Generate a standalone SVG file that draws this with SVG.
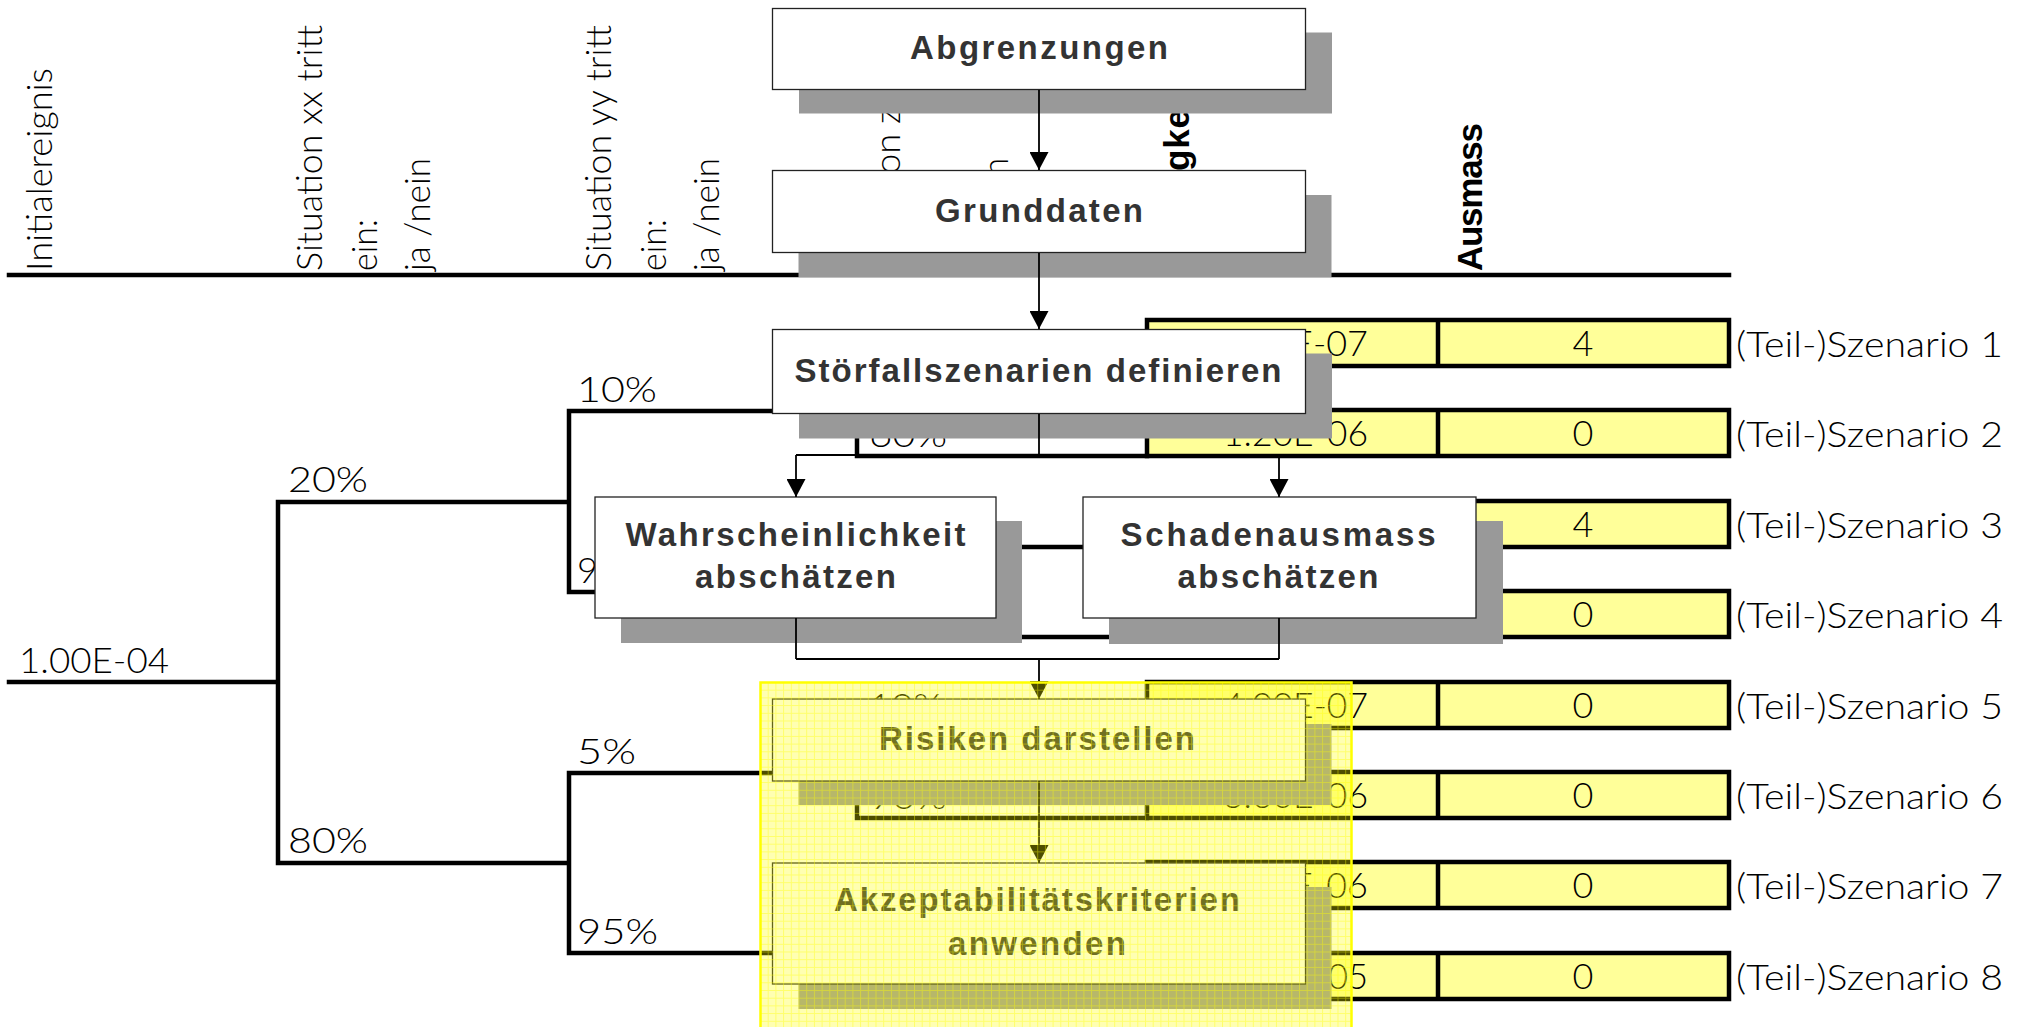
<svg xmlns="http://www.w3.org/2000/svg" width="2029" height="1027" viewBox="0 0 2029 1027">
  <defs>
    <style>
      .hdr  { font-family: Lato, "Liberation Sans", sans-serif; font-weight: 300; font-size: 35px; fill: #000; }
      .hdrb { font-family: "Liberation Sans", Arial, sans-serif; font-weight: bold; font-size: 35px; fill: #000; }
      .lbl  { font-family: Lato, "Liberation Sans", sans-serif; font-weight: 300; font-size: 36px; fill: #000; }
      .num  { text-anchor: end; }
      .val  { text-anchor: middle; }
      .tree { stroke: #000; stroke-width: 4.5; fill: none; stroke-linecap: square; }
      .cell { fill: #ffff99; stroke: #000; stroke-width: 4.5; }
      .div  { stroke: #000; stroke-width: 4.5; }
      .shadow { fill: #999999; }
      .box  { fill: #ffffff; stroke: #222; stroke-width: 1.3; }
      .btxt { font-family: "Liberation Sans", Arial, sans-serif; font-weight: bold; font-size: 33px; fill: #333; text-anchor: middle; }
      .conn { stroke: #000; stroke-width: 1.8; fill: none; }
      .arr  { marker-end: url(#arrow); }
    </style>
    <marker id="arrow" markerUnits="userSpaceOnUse" markerWidth="18" markerHeight="19" viewBox="0 0 18 19" refX="18" refY="9.5" orient="auto">
      <path d="M0,0 L18,9.5 L0,19 z" fill="#000"/>
    </marker>
    <pattern id="grid" patternUnits="userSpaceOnUse" x="760" y="682" width="7.7" height="7.7">
      <path d="M0,0.5 H7.7 M0.5,0 V7.7" stroke="#ffff00" stroke-width="1" stroke-opacity="0.4"/>
    </pattern>
  </defs>

  <!-- column headings -->
  <g id="headings">
    <path class="tree" d="M9,275 H1729"/>
    <text class="hdr" transform="translate(52,271) rotate(-90)" textLength="203" lengthAdjust="spacingAndGlyphs">Initialereignis</text>
    <text class="hdr" transform="translate(322,271) rotate(-90)" textLength="246" lengthAdjust="spacingAndGlyphs">Situation xx tritt</text>
    <text class="hdr" transform="translate(377,271) rotate(-90)" textLength="52" lengthAdjust="spacingAndGlyphs">ein:</text>
    <text class="hdr" transform="translate(430,271) rotate(-90)" textLength="113" lengthAdjust="spacingAndGlyphs">ja /nein</text>
    <text class="hdr" transform="translate(611,271) rotate(-90)" textLength="246" lengthAdjust="spacingAndGlyphs">Situation yy tritt</text>
    <text class="hdr" transform="translate(666,271) rotate(-90)" textLength="52" lengthAdjust="spacingAndGlyphs">ein:</text>
    <text class="hdr" transform="translate(719,271) rotate(-90)" textLength="113" lengthAdjust="spacingAndGlyphs">ja /nein</text>
    <text class="hdr" transform="translate(900,174) rotate(-90)" textLength="66" lengthAdjust="spacingAndGlyphs">on z</text>
    <text class="hdr" transform="translate(1008,177) rotate(-90)">n</text>
    <text class="hdrb" transform="translate(1189,171) rotate(-90)" textLength="62">gke</text>
    <text class="hdrb" transform="translate(1482,271) rotate(-90)" textLength="148">Ausmass</text>
  </g>

  <!-- event tree branches -->
  <g id="event-tree">
    <path class="tree" d="M9,682 H278 M278,502 V863 M278,502 H569 M278,863 H569
      M569,411 V592 M569,773 V953
      M569,411 H857 M569,592 H857 M569,773 H857 M569,953 H857
      M857,366 V456 M857,547 V637 M857,728 V818 M857,908 V999
      M857,366 H1147 M857,456 H1147 M857,547 H1147 M857,637 H1147
      M857,728 H1147 M857,818 H1147 M857,908 H1147 M857,999 H1147"/>
    <text class="lbl" x="19" y="673" textLength="150" lengthAdjust="spacingAndGlyphs">1.00E-04</text>
    <text class="lbl" x="288" y="492" textLength="80" lengthAdjust="spacingAndGlyphs">20%</text>
    <text class="lbl" x="288" y="853" textLength="80" lengthAdjust="spacingAndGlyphs">80%</text>
    <text class="lbl" x="577" y="402" textLength="80" lengthAdjust="spacingAndGlyphs">10%</text>
    <text class="lbl" x="577" y="583">9</text>
    <text class="lbl" x="577" y="764" textLength="59" lengthAdjust="spacingAndGlyphs">5%</text>
    <text class="lbl" x="577" y="944" textLength="81" lengthAdjust="spacingAndGlyphs">95%</text>
    <text class="lbl" x="869" y="447" textLength="78" lengthAdjust="spacingAndGlyphs">60%</text>
    <text class="lbl" x="869" y="719" textLength="74" lengthAdjust="spacingAndGlyphs">10%</text>
    <text class="lbl" x="869" y="809" textLength="78" lengthAdjust="spacingAndGlyphs">90%</text>
  </g>

  <!-- scenario table -->
  <g id="scenario-table">
    <rect class="cell" x="1147" y="320" width="582" height="46"/>
    <rect class="cell" x="1147" y="410" width="582" height="46"/>
    <rect class="cell" x="1147" y="501" width="582" height="46"/>
    <rect class="cell" x="1147" y="591" width="582" height="46"/>
    <rect class="cell" x="1147" y="682" width="582" height="46"/>
    <rect class="cell" x="1147" y="772" width="582" height="46"/>
    <rect class="cell" x="1147" y="862" width="582" height="46"/>
    <rect class="cell" x="1147" y="953" width="582" height="46"/>
    <path class="div" d="M1438,320 V366 M1438,410 V456 M1438,501 V547 M1438,591 V637 M1438,682 V728 M1438,772 V818 M1438,862 V908 M1438,953 V999"/>

    <text class="lbl num" x="1368" y="356" textLength="76" lengthAdjust="spacingAndGlyphs">E-07</text>
    <text class="lbl num" x="1368" y="446" textLength="145" lengthAdjust="spacingAndGlyphs">1.20E-06</text>
    <text class="lbl num" x="1368" y="718" textLength="145" lengthAdjust="spacingAndGlyphs">4.00E-07</text>
    <text class="lbl num" x="1368" y="808" textLength="145" lengthAdjust="spacingAndGlyphs">3.60E-06</text>
    <text class="lbl num" x="1368" y="898" textLength="76" lengthAdjust="spacingAndGlyphs">E-06</text>
    <text class="lbl num" x="1368" y="989" textLength="40" lengthAdjust="spacingAndGlyphs">05</text>

    <text class="lbl val" x="1583" y="356">4</text>
    <text class="lbl val" x="1583" y="446">0</text>
    <text class="lbl val" x="1583" y="537">4</text>
    <text class="lbl val" x="1583" y="627">0</text>
    <text class="lbl val" x="1583" y="718">0</text>
    <text class="lbl val" x="1583" y="808">0</text>
    <text class="lbl val" x="1583" y="898">0</text>
    <text class="lbl val" x="1583" y="989">0</text>

    <text class="lbl" x="1736" y="357" textLength="267" lengthAdjust="spacingAndGlyphs">(Teil-)Szenario 1</text>
    <text class="lbl" x="1736" y="447" textLength="267" lengthAdjust="spacingAndGlyphs">(Teil-)Szenario 2</text>
    <text class="lbl" x="1736" y="538" textLength="267" lengthAdjust="spacingAndGlyphs">(Teil-)Szenario 3</text>
    <text class="lbl" x="1736" y="628" textLength="267" lengthAdjust="spacingAndGlyphs">(Teil-)Szenario 4</text>
    <text class="lbl" x="1736" y="719" textLength="267" lengthAdjust="spacingAndGlyphs">(Teil-)Szenario 5</text>
    <text class="lbl" x="1736" y="809" textLength="267" lengthAdjust="spacingAndGlyphs">(Teil-)Szenario 6</text>
    <text class="lbl" x="1736" y="899" textLength="267" lengthAdjust="spacingAndGlyphs">(Teil-)Szenario 7</text>
    <text class="lbl" x="1736" y="990" textLength="267" lengthAdjust="spacingAndGlyphs">(Teil-)Szenario 8</text>
  </g>

  <!-- process steps -->
  <g id="abgrenzungen">
    <rect class="shadow" x="799" y="32.5" width="533" height="81"/>
    <rect class="box" x="772.5" y="8.5" width="533" height="81"/>
    <text class="btxt" x="1039" y="59" textLength="258">Abgrenzungen</text>
  </g>
  <g id="grunddaten">
    <rect class="shadow" x="798.5" y="195" width="533" height="82"/>
    <rect class="box" x="772.5" y="170.5" width="533" height="82"/>
    <text class="btxt" x="1039" y="222" textLength="208">Grunddaten</text>
  </g>
  <g id="stoerfallszenarien">
    <rect class="shadow" x="799" y="353.5" width="533" height="85"/>
    <rect class="box" x="772.5" y="329.5" width="533" height="84"/>
    <text class="btxt" x="1038" y="382" textLength="487">Störfallszenarien definieren</text>
  </g>
  <g id="wahrscheinlichkeit">
    <rect class="shadow" x="621" y="521" width="401" height="122"/>
    <rect class="box" x="595" y="497" width="401" height="121"/>
    <text class="btxt" x="795.5" y="546" textLength="340">Wahrscheinlichkeit</text>
    <text class="btxt" x="795.5" y="588" textLength="201">abschätzen</text>
  </g>
  <g id="schadenausmass">
    <rect class="shadow" x="1109" y="521" width="394" height="123"/>
    <rect class="box" x="1083" y="497" width="393" height="121"/>
    <text class="btxt" x="1278" y="546" textLength="315">Schadenausmass</text>
    <text class="btxt" x="1278" y="588" textLength="201">abschätzen</text>
  </g>
  <g id="risiken">
    <rect class="shadow" x="798.5" y="724" width="533" height="81"/>
    <rect class="box" x="772.5" y="699" width="533" height="82"/>
    <text class="btxt" x="1037" y="750" textLength="316">Risiken darstellen</text>
  </g>
  <g id="akzeptabilitaet">
    <rect class="shadow" x="798.5" y="887" width="533" height="122"/>
    <rect class="box" x="772.5" y="863" width="533" height="121"/>
    <text class="btxt" x="1037" y="911" textLength="406">Akzeptabilitätskriterien</text>
    <text class="btxt" x="1037" y="955" textLength="178">anwenden</text>
  </g>

  <!-- flow connectors -->
  <g id="connectors">
    <path class="conn arr" d="M1039,90 V170"/>
    <path class="conn arr" d="M1039,253 V329"/>
    <path class="conn" d="M1039,414 V455 M796,455 H1279"/>
    <path class="conn arr" d="M796,455 V497"/>
    <path class="conn arr" d="M1279,455 V497"/>
    <path class="conn" d="M796,618 V659 M1279,618 V659 M796,659 H1279"/>
    <path class="conn arr" d="M1039,659 V699"/>
    <path class="conn arr" d="M1039,781 V863"/>
  </g>

  <!-- highlighted area over the last two steps -->
  <g id="highlight">
    <rect x="760.5" y="682.5" width="591" height="360" fill="#ffff00" fill-opacity="0.3"/>
    <rect x="760.5" y="682.5" width="591" height="360" fill="url(#grid)"/>
    <rect x="760.5" y="682.5" width="591" height="360" fill="none" stroke="#ffff00" stroke-width="2.5"/>
  </g>
</svg>
